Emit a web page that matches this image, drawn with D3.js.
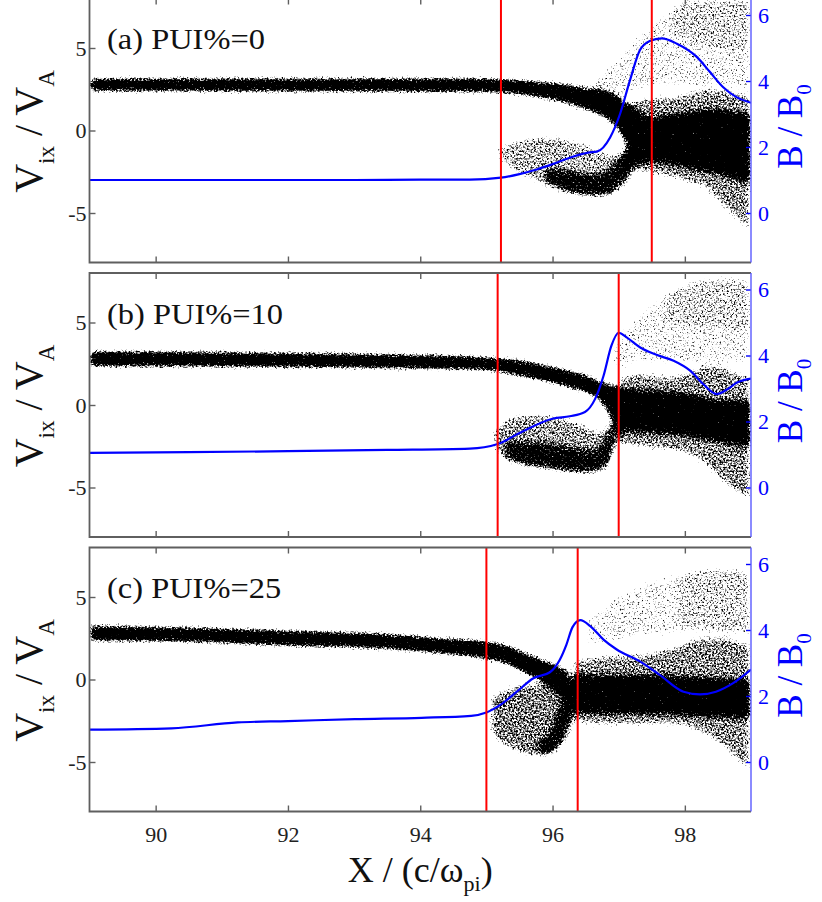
<!DOCTYPE html>
<html>
<head>
<meta charset="utf-8">
<script src="https://cdn.jsdelivr.net/npm/d3@7"></script>
<style>
  body { margin: 0; background: #fff; }
  svg { display: block; }
  text { font-family: "Liberation Serif", "Times New Roman", serif; }
</style>
</head>
<body>
<svg id="chart" width="822" height="902"></svg>
<script>
// ---- axes ----
const X_DOMAIN = [89, 99];
const V_DOMAIN = [-8, 8];
const B_DOMAIN = [-1.5, 6.5];
const xTicks = [90, 92, 94, 96, 98];
const vTicks = [-5, 0, 5];
const bTicks = [0, 2, 4, 6];
const panelNames = ["(a) PUI%=0", "(b) PUI%=10", "(c) PUI%=25"];

// ---- shock ramp boundaries, X/(c/ωpi) ----
const rampA = [95.22, 97.50];
const rampB = [95.17, 97.00];
const rampC = [95.00, 96.38];

// ---- magnetic field profiles: [X, B/B0] ----
const fieldA = [[89,1.0],[90,1.0],[91,1.0],[92,1.0],[93,1.0],[94,1.01],[94.75,1.01],[95.22,1.07],[95.5,1.18],
  [95.76,1.32],[96.0,1.48],[96.27,1.68],[96.54,1.83],[96.67,1.86],[96.87,2.29],[97.02,3.0],[97.17,4.02],
  [97.32,4.93],[97.47,5.21],[97.65,5.29],[97.88,5.13],[98.18,4.73],[98.38,4.27],[98.58,3.81],[98.78,3.51],[99,3.34]];
const fieldB = [[89,1.05],[90.5,1.07],[92,1.1],[93.5,1.14],[94.75,1.18],[95.16,1.31],[95.51,1.66],[96.01,2.09],
  [96.26,2.16],[96.49,2.29],[96.64,2.67],[96.77,3.38],[96.89,4.30],[97.0,4.69],[97.12,4.55],[97.32,4.25],
  [97.57,4.02],[97.83,3.84],[98.08,3.54],[98.28,3.13],[98.48,2.83],[98.63,2.96],[98.79,3.18],[99,3.30]];
const fieldC = [[89,0.98],[90.24,1.02],[91.24,1.2],[92,1.24],[93.01,1.3],[94.02,1.34],[94.77,1.40],[95.0,1.5],
  [95.21,1.73],[95.46,2.13],[95.71,2.54],[95.96,2.72],[96.11,3.10],[96.21,3.56],[96.3,4.08],[96.42,4.30],
  [96.57,4.12],[96.77,3.71],[96.97,3.41],[97.32,3.05],[97.62,2.64],[97.98,2.13],[98.23,2.05],[98.47,2.13],
  [98.73,2.39],[99,2.80]];

// ---- ion phase-space populations: [X, Vix low, Vix high] ----
// run (a)
const beamA = [[89,2.35,3.2],[94.75,2.3,3.2],[95.26,2.25,3.15],[95.76,2.0,3.0],[96.27,1.55,2.8],[96.52,1.2,2.6],
  [96.77,0.8,2.4],[96.97,0.1,2.1],[97.12,-0.9,1.7],[97.27,-1.8,1.2]];
const coreA = [[97.15,-1.2,0.6],[97.3,-1.9,1.0],[97.53,-1.9,0.7],[97.78,-2.0,0.9],[98.03,-2.2,1.0],[98.28,-2.4,1.2],
  [98.54,-2.6,1.2],[98.79,-2.9,1.0],[99,-3.2,1.0]];
const plasmaA = [[97.1,-2.4,1.6],[97.4,-2.6,2.0],[97.78,-2.9,2.1],[98.03,-3.2,2.3],[98.28,-3.5,2.5],[98.54,-4.5,2.5],
  [98.79,-5.5,2.3],[99,-6.2,2.2]];
const haloA = [[96.6,1.8,2.9],[96.9,2.0,4.2],[97.1,2.2,5.0],[97.3,2.4,5.8],[97.53,2.6,6.6],[97.78,2.6,7.4],
  [98.03,2.6,8],[98.5,2.6,8],[99,2.4,8]];
const haloTopA = [[97.8,6.0,8],[98.3,5.2,8],[99,4.8,8]];
const loopA = [[95.15,-1.6,-1.0],[95.4,-2.5,-0.6],[95.76,-3.2,-0.3],[96.0,-3.6,-0.3],[96.27,-3.9,-0.5],
  [96.52,-4.1,-0.8],[96.77,-4.1,-1.2],[97.0,-3.7,-1.4],[97.2,-3.0,-0.5]];
const ringA = [[95.9,-3.1,-2.3],[96.27,-3.7,-2.5],[96.52,-3.9,-2.7],[96.77,-3.9,-2.6],[96.97,-3.5,-1.9],
  [97.12,-2.8,-0.8],[97.3,-2.0,0.5]];

// run (b)
const beamB = [[89,2.3,3.3],[92,2.25,3.2],[94.75,2.1,3.0],[95.16,2.0,2.9],[95.51,1.7,2.75],[96.01,1.3,2.35],
  [96.27,1.0,2.1],[96.52,0.7,1.8],[96.72,0.2,1.45],[96.85,-0.6,1.3],[96.95,-1.5,1.2],[97.05,-2.0,1.0]];
const coreB = [[96.95,-1.3,1.0],[97.1,-1.5,0.9],[97.53,-1.6,0.8],[97.78,-1.7,0.7],[98.03,-1.8,0.6],[98.28,-2.0,0.4],
  [98.54,-2.2,0.2],[98.79,-2.4,0.2],[99,-2.5,0.2]];
const plasmaB = [[97.0,-2.4,1.7],[97.3,-2.6,2.0],[97.78,-2.8,1.8],[98.03,-3.0,2.0],[98.28,-3.6,2.4],[98.54,-4.6,2.4],
  [98.79,-5.4,2.0],[99,-5.8,1.8]];
const haloB = [[96.9,2.0,3.6],[97.1,2.3,4.8],[97.3,2.5,5.6],[97.53,2.5,6.3],[97.78,2.5,7.0],[98.03,2.5,7.5],
  [98.5,2.5,7.8],[99,2.5,7.8]];
const haloTopB = [[97.7,5.0,6.6],[98.0,4.8,7.2],[98.5,4.6,7.5],[99,4.3,7.5]];
const loopB = [[95.1,-2.8,-1.4],[95.3,-3.4,-0.8],[95.6,-3.8,-0.5],[96.0,-4.0,-0.6],[96.4,-4.2,-1.0],
  [96.7,-4.1,-1.5],[96.9,-3.6,-1.0]];
const ringB = [[95.3,-3.3,-2.3],[95.6,-3.6,-2.3],[95.9,-3.8,-2.4],[96.27,-4.0,-2.6],[96.52,-4.1,-2.8],
  [96.72,-3.9,-2.6],[96.85,-3.4,-1.6],[96.95,-2.6,-0.4],[97.02,-1.8,0.2]];

// run (c)
const beamC = [[89,2.3,3.3],[90.5,2.25,3.2],[92,2.0,3.0],[93.5,1.8,2.8],[94.3,1.55,2.55],[95.0,1.2,2.35],
  [95.31,0.9,2.1],[95.61,0.3,1.6],[95.91,-0.3,1.15],[96.11,-0.9,0.8],[96.25,-1.8,0.5]];
const coreC = [[96.3,-1.9,0.3],[96.6,-2.0,0.2],[97.0,-2.0,0.2],[97.5,-2.0,0.2],[98.0,-2.1,0.1],[98.5,-2.2,0.0],
  [99,-2.3,-0.1]];
const plasmaC = [[96.3,-2.6,1.2],[96.8,-2.8,1.5],[97.3,-2.8,1.6],[97.8,-2.8,2.0],[98.3,-3.4,2.6],[98.6,-4.2,2.6],
  [98.8,-5.0,2.4],[99,-5.5,2.2]];
const haloC = [[96.5,2.0,3.6],[96.8,2.2,4.6],[97.1,2.4,5.4],[97.5,2.6,6.0],[98.0,2.8,6.6],[98.5,2.8,6.8],[99,2.6,6.6]];
const haloTopC = [[97.9,3.5,6.2],[98.3,3.0,6.6],[98.7,2.8,6.8],[99,2.6,6.6]];
const loopC = [[95.05,-3.2,-1.0],[95.2,-3.9,-0.7],[95.4,-4.3,-0.4],[95.66,-4.7,-0.2],[95.96,-4.6,-0.3],
  [96.15,-4.0,-0.6],[96.3,-3.0,-0.8]];
const ringC = [[95.8,-4.6,-3.8],[96.0,-4.4,-3.0],[96.12,-3.8,-1.6],[96.22,-3.0,-0.5],[96.3,-2.0,0.2],[96.36,-1.5,0.5]];

// ---- layout ----
const svg = d3.select("#chart");
const left = 89.5, right = 751, panelH = 264;
const tops = [-1.5, 273, 547.5];
const frameColor = "#5f5f5f";
const blue = "#0000ff";
const serif = '"Liberation Serif", "Times New Roman", serif';

const x = d3.scaleLinear().domain(X_DOMAIN).range([left, right]);

// speckle texture: population density thresholded against a noise field
const defs = svg.append("defs");
const sp = defs.append("filter").attr("id", "speckle")
  .attr("filterUnits", "userSpaceOnUse").attr("x", 0).attr("y", 0).attr("width", 822).attr("height", 902)
  .attr("color-interpolation-filters", "sRGB");
sp.append("feGaussianBlur").attr("in", "SourceAlpha").attr("stdDeviation", 3).attr("result", "dens");
sp.append("feTurbulence").attr("type", "fractalNoise").attr("baseFrequency", 0.55)
  .attr("numOctaves", 2).attr("seed", 7).attr("result", "noise");
sp.append("feColorMatrix").attr("in", "noise").attr("type", "matrix")
  .attr("values", "0 0 0 0 0  0 0 0 0 0  0 0 0 0 0  1 0 0 0 0").attr("result", "nA");
sp.append("feComposite").attr("in", "dens").attr("in2", "nA").attr("operator", "arithmetic")
  .attr("k1", 0).attr("k2", 4).attr("k3", 4).attr("k4", -4);

const panels = [
  { name: panelNames[0], ramp: rampA, field: fieldA,
    pops: [[haloA, 0.42], [haloTopA, 0.14], [plasmaA, 0.6], [loopA, 0.55], [ringA, 0.75], [coreA, 1], [beamA, 1]] },
  { name: panelNames[1], ramp: rampB, field: fieldB,
    pops: [[haloB, 0.42], [haloTopB, 0.14], [plasmaB, 0.6], [loopB, 0.58], [ringB, 0.72], [coreB, 1], [beamB, 1]] },
  { name: panelNames[2], ramp: rampC, field: fieldC,
    pops: [[haloC, 0.42], [haloTopC, 0.14], [plasmaC, 0.6], [loopC, 0.62], [ringC, 0.75], [coreC, 1], [beamC, 1]] }
];

panels.forEach((p, i) => {
  const top = tops[i], bottom = top + panelH;
  const v = d3.scaleLinear().domain(V_DOMAIN).range([bottom, top]);
  const b = d3.scaleLinear().domain(B_DOMAIN).range([bottom, top]);
  const g = svg.append("g");

  defs.append("clipPath").attr("id", "clip" + i)
    .append("rect").attr("x", left).attr("y", top).attr("width", right - left).attr("height", panelH);
  const plot = g.append("g").attr("clip-path", `url(#clip${i})`);

  // particle populations
  const area = d3.area().x(d => x(d[0])).y0(d => v(d[1])).y1(d => v(d[2])).curve(d3.curveMonotoneX);
  const cloud = plot.append("g").attr("filter", "url(#speckle)");
  p.pops.forEach(([rows, dens]) => {
    cloud.append("path").datum(rows).attr("d", area).attr("fill", "#000").attr("fill-opacity", dens);
  });

  // magnetic field
  plot.append("path").datum(p.field)
    .attr("d", d3.line().x(d => x(d[0])).y(d => b(d[1])).curve(d3.curveMonotoneX))
    .attr("fill", "none").attr("stroke", blue).attr("stroke-width", 2.2);

  // ramp boundaries
  plot.selectAll("line.ramp").data(p.ramp).join("line").attr("class", "ramp")
    .attr("x1", d => x(d)).attr("x2", d => x(d)).attr("y1", top).attr("y2", bottom)
    .attr("stroke", "#ff0000").attr("stroke-width", 2);

  // ticks
  const styleAxis = (sel, color) => {
    sel.attr("font-family", serif);
    sel.select(".domain").remove();
    sel.selectAll(".tick line").attr("stroke", color).attr("stroke-width", 1.4);
    sel.selectAll(".tick text").attr("fill", color === blue ? blue : "#222")
      .attr("font-size", 22).style("font-family", serif);
  };
  g.append("g").attr("transform", `translate(${left},0)`)
    .call(d3.axisLeft(v).tickValues(vTicks).tickSizeInner(-6).tickSizeOuter(0).tickPadding(3).tickFormat(d => String(d)))
    .call(s => styleAxis(s, frameColor));
  g.append("g").attr("transform", `translate(0,${bottom})`)
    .call(d3.axisBottom(x).tickValues(xTicks).tickSizeInner(-6).tickSizeOuter(0).tickPadding(15)
      .tickFormat(i === 2 ? (d => String(d)) : () => ""))
    .call(s => styleAxis(s, frameColor));
  g.append("g").attr("transform", `translate(0,${top})`)
    .call(d3.axisTop(x).tickValues(xTicks).tickSizeInner(-6).tickSizeOuter(0).tickFormat(() => ""))
    .call(s => styleAxis(s, frameColor));
  g.append("g").attr("transform", `translate(${right},0)`)
    .call(d3.axisRight(b).tickValues(bTicks).tickSizeInner(-5).tickSizeOuter(0).tickPadding(7).tickFormat(d => String(d)))
    .call(s => styleAxis(s, blue));

  // frame
  g.append("path").attr("d", `M${right},${top}H${left}V${bottom}H${right}`)
    .attr("fill", "none").attr("stroke", frameColor).attr("stroke-width", 1.8);
  g.append("line").attr("x1", right).attr("x2", right).attr("y1", top).attr("y2", bottom)
    .attr("stroke", "#5a5aff").attr("stroke-width", 1.4);

  // run label
  g.append("text").attr("transform", `translate(107,${top + 50.5}) scale(1.12,1)`)
    .attr("font-size", 29).attr("fill", "#111").text(p.name);

  // left axis title  V_ix / V_A
  const mid = top + panelH / 2;
  const vt = g.append("text").attr("transform", `translate(42,${mid + 1}) rotate(-90)`)
    .attr("text-anchor", "middle").attr("font-size", 40).attr("fill", "#111");
  vt.append("tspan").text("V");
  vt.append("tspan").attr("dy", 12).attr("font-size", 23).text("ix");
  vt.append("tspan").attr("dy", -12).text(" / V");
  vt.append("tspan").attr("dy", 12).attr("font-size", 23).text("A");

  // right axis title  B / B_0
  const bt = g.append("text").attr("transform", `translate(802,${mid - 4}) rotate(-90)`)
    .attr("text-anchor", "middle").attr("font-size", 35).attr("fill", blue);
  bt.append("tspan").text("B / B");
  bt.append("tspan").attr("dy", 9).attr("font-size", 21).text("0");
});

// bottom axis title  X / (c/ω_pi)
const xt = svg.append("text").attr("x", (left + right) / 2).attr("y", 882)
  .attr("text-anchor", "middle").attr("font-size", 36).attr("fill", "#111");
xt.append("tspan").text("X / (c/ω");
xt.append("tspan").attr("dy", 9).attr("font-size", 22).text("pi");
xt.append("tspan").attr("dy", -9).text(")");
</script>
</body>
</html>
